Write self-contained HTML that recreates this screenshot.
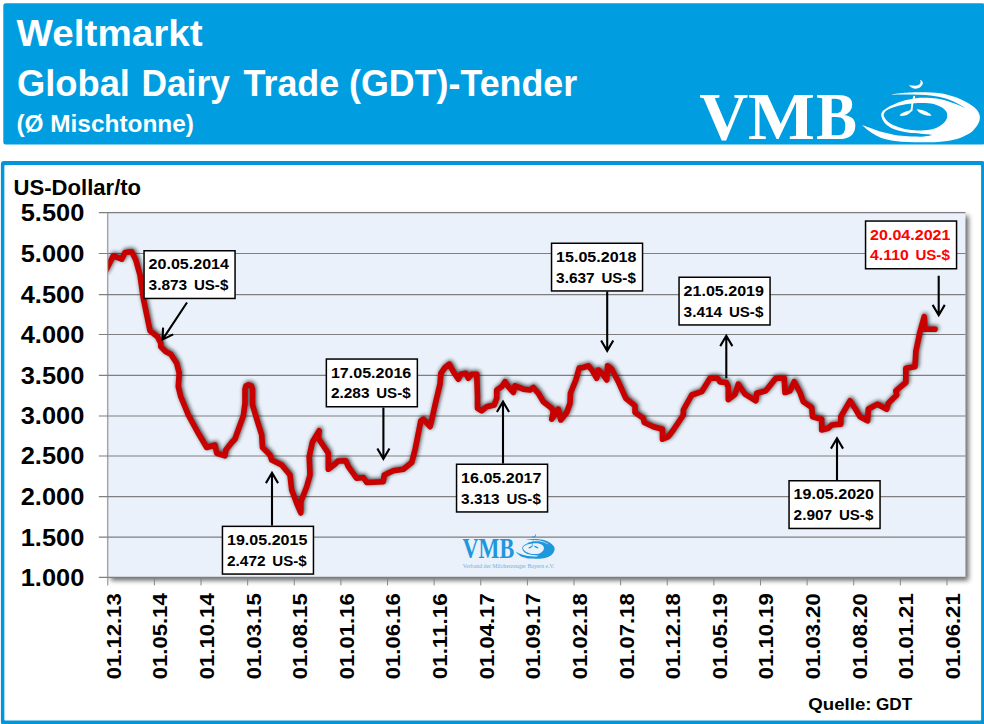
<!DOCTYPE html>
<html lang="de"><head><meta charset="utf-8"><title>Weltmarkt – Global Dairy Trade (GDT)-Tender</title>
<style>
html,body{margin:0;padding:0;background:#fff;}
body{width:984px;height:724px;overflow:hidden;position:relative;font-family:"Liberation Sans",sans-serif;}
#hdr{position:absolute;left:4px;top:4px;width:980px;height:140px;background:#009ee0;}
#frame{position:absolute;left:3px;top:163px;width:980px;height:560px;background:#fff;}
svg{position:absolute;left:0;top:0;}
text{font-family:"Liberation Sans",sans-serif;font-weight:bold;}
.serif{font-family:"Liberation Serif",serif;}
</style></head><body>
<div id="hdr"></div><div id="frame"></div>
<svg width="984" height="724" viewBox="0 0 984 724">
<defs>
<filter id="ps" x="-5%" y="-5%" width="115%" height="115%"><feGaussianBlur in="SourceAlpha" stdDeviation="2.7"/><feOffset dx="3.2" dy="3.2"/><feComponentTransfer><feFuncA type="linear" slope="0.6"/></feComponentTransfer></filter>
<filter id="ls" x="-5%" y="-10%" width="110%" height="120%"><feGaussianBlur in="SourceAlpha" stdDeviation="2.3"/><feOffset dx="0.7" dy="-1.3"/><feComponentTransfer><feFuncA type="linear" slope="0.75"/></feComponentTransfer></filter>
<clipPath id="pc"><rect x="108.3" y="212.7" width="857.7" height="364.7"/></clipPath>
</defs>
<rect x="3.3" y="3.3" width="981.4" height="141.3" rx="2.5" fill="#009ee0"/>
<path fill="#fff" d="M4,162 H981 A2,2 0 0 1 983,164 V721 A2,2 0 0 1 981,723 H4 A2,2 0 0 1 2,721 V164 A2,2 0 0 1 4,162 Z"/>
<path fill="#0096dc" fill-rule="evenodd" d="M4.1,161 H981.8 A3.2,3.2 0 0 1 985,164.2 V721.8 A3.2,3.2 0 0 1 981.8,725 H4.1 A3.2,3.2 0 0 1 0.9,721.8 V164.2 A3.2,3.2 0 0 1 4.1,161 Z M5.55,164.9 H979.9 A1.2,1.2 0 0 1 981.1,166.1 V719.4 A1.2,1.2 0 0 1 979.9,720.6 H5.55 A1.2,1.2 0 0 1 4.35,719.4 V166.1 A1.2,1.2 0 0 1 5.55,164.9 Z"/>
<g fill="#fff">
<text x="16.6" y="46.3" font-size="36.6" textLength="186" lengthAdjust="spacingAndGlyphs">Weltmarkt</text>
<text y="96.3" font-size="36.6"><tspan x="17.0" textLength="112.9" lengthAdjust="spacingAndGlyphs">Global</tspan> <tspan x="141.4" textLength="88.5" lengthAdjust="spacingAndGlyphs">Dairy</tspan> <tspan x="243.5" textLength="95.7" lengthAdjust="spacingAndGlyphs">Trade</tspan> <tspan x="349.1" textLength="228.1" lengthAdjust="spacingAndGlyphs">(GDT)-Tender</tspan></text>
<text x="16.4" y="132.3" font-size="24.1" textLength="177.5" lengthAdjust="spacingAndGlyphs">(Ø Mischtonne)</text>
<text class="serif" y="138.6" font-size="67.8"><tspan x="699.2" textLength="49" lengthAdjust="spacingAndGlyphs">V</tspan><tspan x="747.9" textLength="67" lengthAdjust="spacingAndGlyphs">M</tspan><tspan x="815.9" textLength="41" lengthAdjust="spacingAndGlyphs">B</tspan></text>
</g>
<g id="logo">
<path fill="#fff" d="M890.3,94.9 C891.92,94.63 896.9,93.68 900,93.3 C903.1,92.92 905.57,92.77 908.9,92.6 C912.23,92.43 916.33,92.32 920,92.3 C923.67,92.28 927.57,92.33 930.9,92.5 C934.23,92.67 937.25,92.93 940,93.3 C942.75,93.67 944.73,94.03 947.4,94.7 C950.07,95.37 953.27,96.3 956,97.3 C958.73,98.3 961.47,99.53 963.8,100.7 C966.13,101.87 968.17,103.12 970,104.3 C971.83,105.48 973.42,106.52 974.8,107.8 C976.18,109.08 977.47,110.58 978.3,112 C979.13,113.42 979.62,114.8 979.8,116.3 C979.98,117.8 979.83,119.45 979.4,121 C978.97,122.55 978.1,124.17 977.2,125.6 C976.3,127.03 975.12,128.42 974,129.6 C972.88,130.78 972.83,131.32 970.5,132.7 C968.17,134.08 963.92,136.53 960,137.9 C956.08,139.27 951.33,140.18 947,140.9 C942.67,141.62 938.33,141.97 934,142.2 C929.67,142.43 925.33,142.35 921,142.3 C916.67,142.25 912.33,142.13 908,141.9 C903.67,141.67 899.33,141.52 895,140.9 C890.67,140.28 885.42,139.25 882,138.2 C878.58,137.15 876.67,135.78 874.5,134.6 C872.33,133.42 870.62,132.28 869,131.1 C867.38,129.92 865.98,128.53 864.8,127.5 C863.62,126.47 862.38,125.33 861.9,124.9 C862.42,125.08 863.82,125.57 865,126 C866.18,126.43 867.33,126.87 869,127.5 C870.67,128.13 872.83,129.05 875,129.8 C877.17,130.55 879.75,131.37 882,132 C884.25,132.63 886.33,133.12 888.5,133.6 C890.67,134.08 892.83,134.55 895,134.9 C897.17,135.25 899.33,135.47 901.5,135.7 C903.67,135.93 905.83,136.15 908,136.3 C910.17,136.45 912.33,136.53 914.5,136.6 C916.67,136.67 918.92,136.78 921,136.7 C923.08,136.62 925.15,136.4 927,136.1 C928.85,135.8 931.25,135.1 932.1,134.9 C931.17,134.8 928.35,134.5 926.5,134.3 C924.65,134.1 923,133.9 921,133.7 C919,133.5 916.67,133.32 914.5,133.1 C912.33,132.88 910.17,132.72 908,132.4 C905.83,132.08 903.67,131.7 901.5,131.2 C899.33,130.7 896.92,130.07 895,129.4 C893.08,128.73 891.52,128.07 890,127.2 C888.48,126.33 887.07,125.32 885.9,124.2 C884.73,123.08 883.75,121.8 883,120.5 C882.25,119.2 881.67,117.55 881.4,116.4 C881.13,115.25 881.2,114.47 881.4,113.6 C881.6,112.73 882.03,111.87 882.6,111.2 C883.17,110.53 883.9,110.25 884.8,109.6 C885.7,108.95 886.72,108.05 888,107.3 C889.28,106.55 890.92,105.87 892.5,105.1 C894.08,104.33 895.68,103.43 897.5,102.7 C899.32,101.97 901.48,101.25 903.4,100.7 C905.32,100.15 907.17,99.77 909,99.4 C910.83,99.03 912.58,98.77 914.4,98.5 C916.22,98.23 918.13,97.93 919.9,97.8 C921.67,97.67 923.17,97.67 925,97.7 C926.83,97.73 928.98,97.85 930.9,98 C932.82,98.15 934.67,98.33 936.5,98.6 C938.33,98.87 940.07,99.2 941.9,99.6 C943.73,100 945.68,100.45 947.5,101 C949.32,101.55 950.88,102.2 952.8,102.9 C954.72,103.6 956.98,104.38 959,105.2 C961.02,106.02 963.92,107.37 964.9,107.8 C963.98,107.25 961.3,105.55 959.4,104.5 C957.5,103.45 955.5,102.4 953.5,101.5 C951.5,100.6 949.65,99.85 947.4,99.1 C945.15,98.35 942.75,97.6 940,97 C937.25,96.4 934.23,95.88 930.9,95.5 C927.57,95.12 923.67,94.88 920,94.7 C916.33,94.52 912.23,94.42 908.9,94.4 C905.57,94.38 903.1,94.52 900,94.6 C896.9,94.68 891.92,94.85 890.3,94.9 Z"/>
<path fill="#009ee0" d="M883.7,115.6 C883.53,114.47 884.02,113.32 884.6,112.4 C885.18,111.48 886.25,110.75 887.2,110.1 C888.15,109.45 888.83,109.12 890.3,108.5 C891.77,107.88 893.82,107.03 896,106.4 C898.18,105.77 900.7,105.18 903.4,104.7 C906.1,104.22 909.6,103.77 912.2,103.5 C914.8,103.23 916.8,103.18 919,103.1 C921.2,103.02 923.4,102.92 925.4,103 C927.4,103.08 929.17,103.28 931,103.6 C932.83,103.92 934.82,104.38 936.4,104.9 C937.98,105.42 939.23,106.03 940.5,106.7 C941.77,107.37 943.07,108.13 944,108.9 C944.93,109.67 945.58,110.45 946.1,111.3 C946.62,112.15 946.93,113.02 947.1,114 C947.27,114.98 947.32,116.1 947.1,117.2 C946.88,118.3 946.45,119.53 945.8,120.6 C945.15,121.67 944.33,122.6 943.2,123.6 C942.07,124.6 940.53,125.73 939,126.6 C937.47,127.47 935.92,128.22 934,128.8 C932.08,129.38 929.67,129.82 927.5,130.1 C925.33,130.38 923.17,130.47 921,130.5 C918.83,130.53 916.67,130.48 914.5,130.3 C912.33,130.12 910.08,129.75 908,129.4 C905.92,129.05 903.73,128.63 902,128.2 C900.27,127.77 899.18,127.38 897.6,126.8 C896.02,126.22 894.02,125.45 892.5,124.7 C890.98,123.95 889.65,123.22 888.5,122.3 C887.35,121.38 886.4,120.32 885.6,119.2 C884.8,118.08 883.87,116.73 883.7,115.6 Z"/>
<path fill="#fff" d="M908.8,85.2 C911,87.6 913.4,88.7 915.8,88.7 C918.8,88.7 921.4,87 922.6,84.3 C923.4,82.3 922.4,80.5 919.6,79.4 C920.8,80.9 921,82.3 920.2,83.6 C919.2,85.1 917.6,85.7 915.6,85.7 C913.4,85.7 911.2,85.5 908.8,85.2 Z"/>
<path fill="none" stroke="#fff" stroke-width="1.9" stroke-linecap="round" d="M914.2,96.6 C913.6,99.5 912.6,102 912.2,104.5 C911.9,106.6 911.8,108.6 911.5,110.6"/>
<path fill="#fff" d="M912.2,108.8 C911.6,112.2 909,114.6 905.2,115.5 C903,116 900.8,116.1 899.6,115.6 C900.2,113.9 902.2,112.6 904.6,111.9 C907.5,111.1 910.2,110.5 912.2,108.8 Z"/>
<path fill="#fff" d="M916.6,109.3 C920,109.3 923.6,110.2 926.6,111.8 C928.9,113 930.8,114.3 931.4,115.5 C929.3,116 926.5,115.7 923.9,114.8 C920.4,113.6 917.9,111.8 916.6,109.3 Z"/>
</g>
<text x="13.6" y="195.4" font-size="21.5" fill="#000" textLength="127.5" lengthAdjust="spacingAndGlyphs">US-Dollar/to</text>
<rect x="107.8" y="212.7" width="857.7" height="364.7" fill="#000" filter="url(#ps)"/>
<rect x="107.8" y="212.7" width="857.7" height="364.7" fill="#eaf1fa"/>
<path d="M98.8,577.4 H965.5 M98.8,537.2 H965.5 M98.8,496.7 H965.5 M98.8,456 H965.5 M98.8,416 H965.5 M98.8,375.3 H965.5 M98.8,334.5 H965.5 M98.8,294.6 H965.5 M98.8,253.5 H965.5 M98.8,212.7 H965.5" stroke="#7f7f7f" stroke-width="1.2" fill="none"/>
<path d="M107.8,212.7 V585.4 M154.42,577.4 V585.4 M201.04,577.4 V585.4 M247.66,577.4 V585.4 M294.28,577.4 V585.4 M340.9,577.4 V585.4 M387.52,577.4 V585.4 M434.14,577.4 V585.4 M480.76,577.4 V585.4 M527.38,577.4 V585.4 M574,577.4 V585.4 M620.62,577.4 V585.4 M667.24,577.4 V585.4 M713.86,577.4 V585.4 M760.48,577.4 V585.4 M807.1,577.4 V585.4 M853.72,577.4 V585.4 M900.34,577.4 V585.4 M946.96,577.4 V585.4" stroke="#868686" stroke-width="1" fill="none"/>
<g fill="#000" font-size="23.2" text-anchor="end">
<text x="84.3" y="221" textLength="63.6" lengthAdjust="spacingAndGlyphs">5.500</text>
<text x="84.3" y="261.8" textLength="63.6" lengthAdjust="spacingAndGlyphs">5.000</text>
<text x="84.3" y="302.9" textLength="63.6" lengthAdjust="spacingAndGlyphs">4.500</text>
<text x="84.3" y="342.8" textLength="63.6" lengthAdjust="spacingAndGlyphs">4.000</text>
<text x="84.3" y="383.6" textLength="63.6" lengthAdjust="spacingAndGlyphs">3.500</text>
<text x="84.3" y="424.3" textLength="63.6" lengthAdjust="spacingAndGlyphs">3.000</text>
<text x="84.3" y="464.3" textLength="63.6" lengthAdjust="spacingAndGlyphs">2.500</text>
<text x="84.3" y="505" textLength="63.6" lengthAdjust="spacingAndGlyphs">2.000</text>
<text x="84.3" y="545.5" textLength="63.6" lengthAdjust="spacingAndGlyphs">1.500</text>
<text x="84.3" y="585.7" textLength="63.6" lengthAdjust="spacingAndGlyphs">1.000</text>
</g>
<g fill="#000" font-size="21">
<text transform="translate(120.7,679.3) rotate(-90)" textLength="86" lengthAdjust="spacingAndGlyphs">01.12.13</text>
<text transform="translate(167.32,679.3) rotate(-90)" textLength="86" lengthAdjust="spacingAndGlyphs">01.05.14</text>
<text transform="translate(213.94,679.3) rotate(-90)" textLength="86" lengthAdjust="spacingAndGlyphs">01.10.14</text>
<text transform="translate(260.56,679.3) rotate(-90)" textLength="86" lengthAdjust="spacingAndGlyphs">01.03.15</text>
<text transform="translate(307.18,679.3) rotate(-90)" textLength="86" lengthAdjust="spacingAndGlyphs">01.08.15</text>
<text transform="translate(353.8,679.3) rotate(-90)" textLength="86" lengthAdjust="spacingAndGlyphs">01.01.16</text>
<text transform="translate(400.42,679.3) rotate(-90)" textLength="86" lengthAdjust="spacingAndGlyphs">01.06.16</text>
<text transform="translate(447.04,679.3) rotate(-90)" textLength="86" lengthAdjust="spacingAndGlyphs">01.11.16</text>
<text transform="translate(493.66,679.3) rotate(-90)" textLength="86" lengthAdjust="spacingAndGlyphs">01.04.17</text>
<text transform="translate(540.28,679.3) rotate(-90)" textLength="86" lengthAdjust="spacingAndGlyphs">01.09.17</text>
<text transform="translate(586.9,679.3) rotate(-90)" textLength="86" lengthAdjust="spacingAndGlyphs">01.02.18</text>
<text transform="translate(633.52,679.3) rotate(-90)" textLength="86" lengthAdjust="spacingAndGlyphs">01.07.18</text>
<text transform="translate(680.14,679.3) rotate(-90)" textLength="86" lengthAdjust="spacingAndGlyphs">01.12.18</text>
<text transform="translate(726.76,679.3) rotate(-90)" textLength="86" lengthAdjust="spacingAndGlyphs">01.05.19</text>
<text transform="translate(773.38,679.3) rotate(-90)" textLength="86" lengthAdjust="spacingAndGlyphs">01.10.19</text>
<text transform="translate(820,679.3) rotate(-90)" textLength="86" lengthAdjust="spacingAndGlyphs">01.03.20</text>
<text transform="translate(866.62,679.3) rotate(-90)" textLength="86" lengthAdjust="spacingAndGlyphs">01.08.20</text>
<text transform="translate(913.24,679.3) rotate(-90)" textLength="86" lengthAdjust="spacingAndGlyphs">01.01.21</text>
<text transform="translate(959.86,679.3) rotate(-90)" textLength="86" lengthAdjust="spacingAndGlyphs">01.06.21</text>
</g>
<text y="709.6" font-size="16.5" fill="#000"><tspan x="808.3" textLength="63.3" lengthAdjust="spacingAndGlyphs">Quelle:</tspan> <tspan x="876" textLength="36.2" lengthAdjust="spacingAndGlyphs">GDT</tspan></text>
<g id="wm" fill="#1f97dd">
<text class="serif" x="462.6" y="557.6" font-size="28.6" textLength="51.6" lengthAdjust="spacingAndGlyphs">VMB</text>
<text class="serif" x="462.8" y="568.2" font-size="5.8" style="font-weight:normal" fill="#74b0dc" textLength="91.7" lengthAdjust="spacingAndGlyphs">Verband der Milcherzeuger Bayern e.V.</text>
<g transform="translate(515.9,534.1) scale(0.328,0.393) translate(-861.9,-79.7)">
<path fill="#1f97dd" d="M890.3,94.9 C891.92,94.63 896.9,93.68 900,93.3 C903.1,92.92 905.57,92.77 908.9,92.6 C912.23,92.43 916.33,92.32 920,92.3 C923.67,92.28 927.57,92.33 930.9,92.5 C934.23,92.67 937.25,92.93 940,93.3 C942.75,93.67 944.73,94.03 947.4,94.7 C950.07,95.37 953.27,96.3 956,97.3 C958.73,98.3 961.47,99.53 963.8,100.7 C966.13,101.87 968.17,103.12 970,104.3 C971.83,105.48 973.42,106.52 974.8,107.8 C976.18,109.08 977.47,110.58 978.3,112 C979.13,113.42 979.62,114.8 979.8,116.3 C979.98,117.8 979.83,119.45 979.4,121 C978.97,122.55 978.1,124.17 977.2,125.6 C976.3,127.03 975.12,128.42 974,129.6 C972.88,130.78 972.83,131.32 970.5,132.7 C968.17,134.08 963.92,136.53 960,137.9 C956.08,139.27 951.33,140.18 947,140.9 C942.67,141.62 938.33,141.97 934,142.2 C929.67,142.43 925.33,142.35 921,142.3 C916.67,142.25 912.33,142.13 908,141.9 C903.67,141.67 899.33,141.52 895,140.9 C890.67,140.28 885.42,139.25 882,138.2 C878.58,137.15 876.67,135.78 874.5,134.6 C872.33,133.42 870.62,132.28 869,131.1 C867.38,129.92 865.98,128.53 864.8,127.5 C863.62,126.47 862.38,125.33 861.9,124.9 C862.42,125.08 863.82,125.57 865,126 C866.18,126.43 867.33,126.87 869,127.5 C870.67,128.13 872.83,129.05 875,129.8 C877.17,130.55 879.75,131.37 882,132 C884.25,132.63 886.33,133.12 888.5,133.6 C890.67,134.08 892.83,134.55 895,134.9 C897.17,135.25 899.33,135.47 901.5,135.7 C903.67,135.93 905.83,136.15 908,136.3 C910.17,136.45 912.33,136.53 914.5,136.6 C916.67,136.67 918.92,136.78 921,136.7 C923.08,136.62 925.15,136.4 927,136.1 C928.85,135.8 931.25,135.1 932.1,134.9 C931.17,134.8 928.35,134.5 926.5,134.3 C924.65,134.1 923,133.9 921,133.7 C919,133.5 916.67,133.32 914.5,133.1 C912.33,132.88 910.17,132.72 908,132.4 C905.83,132.08 903.67,131.7 901.5,131.2 C899.33,130.7 896.92,130.07 895,129.4 C893.08,128.73 891.52,128.07 890,127.2 C888.48,126.33 887.07,125.32 885.9,124.2 C884.73,123.08 883.75,121.8 883,120.5 C882.25,119.2 881.67,117.55 881.4,116.4 C881.13,115.25 881.2,114.47 881.4,113.6 C881.6,112.73 882.03,111.87 882.6,111.2 C883.17,110.53 883.9,110.25 884.8,109.6 C885.7,108.95 886.72,108.05 888,107.3 C889.28,106.55 890.92,105.87 892.5,105.1 C894.08,104.33 895.68,103.43 897.5,102.7 C899.32,101.97 901.48,101.25 903.4,100.7 C905.32,100.15 907.17,99.77 909,99.4 C910.83,99.03 912.58,98.77 914.4,98.5 C916.22,98.23 918.13,97.93 919.9,97.8 C921.67,97.67 923.17,97.67 925,97.7 C926.83,97.73 928.98,97.85 930.9,98 C932.82,98.15 934.67,98.33 936.5,98.6 C938.33,98.87 940.07,99.2 941.9,99.6 C943.73,100 945.68,100.45 947.5,101 C949.32,101.55 950.88,102.2 952.8,102.9 C954.72,103.6 956.98,104.38 959,105.2 C961.02,106.02 963.92,107.37 964.9,107.8 C963.98,107.25 961.3,105.55 959.4,104.5 C957.5,103.45 955.5,102.4 953.5,101.5 C951.5,100.6 949.65,99.85 947.4,99.1 C945.15,98.35 942.75,97.6 940,97 C937.25,96.4 934.23,95.88 930.9,95.5 C927.57,95.12 923.67,94.88 920,94.7 C916.33,94.52 912.23,94.42 908.9,94.4 C905.57,94.38 903.1,94.52 900,94.6 C896.9,94.68 891.92,94.85 890.3,94.9 Z"/>
<path fill="#eaf1fa" d="M883.7,115.6 C883.53,114.47 884.02,113.32 884.6,112.4 C885.18,111.48 886.25,110.75 887.2,110.1 C888.15,109.45 888.83,109.12 890.3,108.5 C891.77,107.88 893.82,107.03 896,106.4 C898.18,105.77 900.7,105.18 903.4,104.7 C906.1,104.22 909.6,103.77 912.2,103.5 C914.8,103.23 916.8,103.18 919,103.1 C921.2,103.02 923.4,102.92 925.4,103 C927.4,103.08 929.17,103.28 931,103.6 C932.83,103.92 934.82,104.38 936.4,104.9 C937.98,105.42 939.23,106.03 940.5,106.7 C941.77,107.37 943.07,108.13 944,108.9 C944.93,109.67 945.58,110.45 946.1,111.3 C946.62,112.15 946.93,113.02 947.1,114 C947.27,114.98 947.32,116.1 947.1,117.2 C946.88,118.3 946.45,119.53 945.8,120.6 C945.15,121.67 944.33,122.6 943.2,123.6 C942.07,124.6 940.53,125.73 939,126.6 C937.47,127.47 935.92,128.22 934,128.8 C932.08,129.38 929.67,129.82 927.5,130.1 C925.33,130.38 923.17,130.47 921,130.5 C918.83,130.53 916.67,130.48 914.5,130.3 C912.33,130.12 910.08,129.75 908,129.4 C905.92,129.05 903.73,128.63 902,128.2 C900.27,127.77 899.18,127.38 897.6,126.8 C896.02,126.22 894.02,125.45 892.5,124.7 C890.98,123.95 889.65,123.22 888.5,122.3 C887.35,121.38 886.4,120.32 885.6,119.2 C884.8,118.08 883.87,116.73 883.7,115.6 Z"/>
<path fill="#1f97dd" d="M908.8,85.2 C911,87.6 913.4,88.7 915.8,88.7 C918.8,88.7 921.4,87 922.6,84.3 C923.4,82.3 922.4,80.5 919.6,79.4 C920.8,80.9 921,82.3 920.2,83.6 C919.2,85.1 917.6,85.7 915.6,85.7 C913.4,85.7 911.2,85.5 908.8,85.2 Z"/>
<path fill="none" stroke="#1f97dd" stroke-width="1.9" stroke-linecap="round" d="M914.2,96.6 C913.6,99.5 912.6,102 912.2,104.5 C911.9,106.6 911.8,108.6 911.5,110.6"/>
<path fill="#1f97dd" d="M912.2,108.8 C911.6,112.2 909,114.6 905.2,115.5 C903,116 900.8,116.1 899.6,115.6 C900.2,113.9 902.2,112.6 904.6,111.9 C907.5,111.1 910.2,110.5 912.2,108.8 Z"/>
<path fill="#1f97dd" d="M916.6,109.3 C920,109.3 923.6,110.2 926.6,111.8 C928.9,113 930.8,114.3 931.4,115.5 C929.3,116 926.5,115.7 923.9,114.8 C920.4,113.6 917.9,111.8 916.6,109.3 Z"/>
</g></g>
<path d="M105.5,271 L113.3,255.8 L121.7,259.2 L125,252.5 L131.7,251.7 L135.8,260 L140,275 L143.3,298.3 L150,330.8 L157.5,336.7 L160.8,343.3 L160.8,346.7 L165.8,351.7 L170.8,354.2 L176.7,363.3 L179.2,373.3 L178.3,386.7 L180.8,396.7 L188.3,415 L198.3,433.3 L206.7,447.5 L215,445 L216.7,453.3 L225,455.8 L225.8,450 L231.7,442.5 L235,439 L236.7,434 L243.3,416 L245,403.3 L245,389 L246,385.8 L248.5,384.8 L251.2,385.8 L252.5,389 L252.5,405 L256.7,419 L261.7,435 L262.5,447.5 L270,455 L271.7,460 L281.7,465 L290,475 L291.7,490 L296.7,503.3 L300.8,513 L300.8,501.7 L306.7,486.7 L310,475 L309.2,456.7 L312.5,441.7 L319.2,430.8 L318.3,438.3 L328.3,453.3 L328.3,469.2 L335,464 L338,461 L345.8,460.8 L348.3,466.7 L356.7,478.3 L363.3,477.5 L366.7,482.5 L383.3,481.7 L384.2,475 L393.3,470.8 L403.3,469.2 L411.7,462.5 L415,450 L420.8,420.8 L423.3,419.2 L430,426.7 L431.7,420 L435,405 L440,384 L440.8,373.3 L445,367.5 L449.2,364.2 L453.3,371.7 L458.3,379.2 L460.8,374.2 L465.8,373.3 L468.3,378.3 L471.7,374.2 L476.7,374.2 L477.5,396.7 L477.5,408.3 L481.7,410.8 L486.7,406.7 L494.2,405 L496.7,398.3 L496.7,390 L501.7,386.7 L505,381.7 L508.3,386.7 L513.3,392.5 L515,385.8 L523.3,389.2 L530,390 L533.3,387.5 L538.3,393.3 L543.3,401.7 L551.7,408.3 L553.3,411.7 L551.7,419.2 L555.8,413.3 L558.3,409.2 L560.8,420 L566.7,412.5 L570,403.3 L570.4,393.3 L575.8,380 L579.2,368 L583.3,367.5 L588.3,365.8 L592.5,370.8 L596.7,378.3 L598.3,370 L603.3,375 L606.7,380 L607.5,365.8 L611.7,369.2 L618.3,381.7 L625.8,398.3 L635,405.8 L635,412.5 L643.3,418.3 L644.2,422.5 L653.3,426.7 L662.5,429.2 L662.5,439.2 L668.3,436.7 L673.3,430 L680,420 L683.3,415 L683.3,410 L691.7,395 L701.7,391.7 L710,378.3 L717.5,378.3 L720,382 L726.2,382.5 L728.3,387 L728.3,399.6 L735,394.2 L738.3,384.2 L745,394.2 L755.8,400.8 L756.7,393.3 L765.8,390.8 L775.8,378.3 L784.2,378.3 L785,392.5 L790,390.8 L794.2,381.7 L800,392.5 L803.3,401.7 L811.7,407.5 L812.5,416.7 L821.7,419.2 L821.7,430 L828.3,428.3 L831.7,425 L840.8,424.2 L840.8,416.7 L850,400.8 L855.4,409 L860,416.7 L867.5,420.8 L868.3,409 L877.5,404.2 L886.7,409.2 L888.3,403.3 L896.7,395 L895.8,390.8 L905.8,382.5 L905.8,368.3 L915,366.7 L915.8,351.7 L920,331.7 L924.2,316.7 L925,329.2 L935,329.2" fill="none" stroke="#000" stroke-width="5.6" stroke-linejoin="round" stroke-linecap="round" filter="url(#ls)" clip-path="url(#pc)"/>
<path d="M105.5,271 L113.3,255.8 L121.7,259.2 L125,252.5 L131.7,251.7 L135.8,260 L140,275 L143.3,298.3 L150,330.8 L157.5,336.7 L160.8,343.3 L160.8,346.7 L165.8,351.7 L170.8,354.2 L176.7,363.3 L179.2,373.3 L178.3,386.7 L180.8,396.7 L188.3,415 L198.3,433.3 L206.7,447.5 L215,445 L216.7,453.3 L225,455.8 L225.8,450 L231.7,442.5 L235,439 L236.7,434 L243.3,416 L245,403.3 L245,389 L246,385.8 L248.5,384.8 L251.2,385.8 L252.5,389 L252.5,405 L256.7,419 L261.7,435 L262.5,447.5 L270,455 L271.7,460 L281.7,465 L290,475 L291.7,490 L296.7,503.3 L300.8,513 L300.8,501.7 L306.7,486.7 L310,475 L309.2,456.7 L312.5,441.7 L319.2,430.8 L318.3,438.3 L328.3,453.3 L328.3,469.2 L335,464 L338,461 L345.8,460.8 L348.3,466.7 L356.7,478.3 L363.3,477.5 L366.7,482.5 L383.3,481.7 L384.2,475 L393.3,470.8 L403.3,469.2 L411.7,462.5 L415,450 L420.8,420.8 L423.3,419.2 L430,426.7 L431.7,420 L435,405 L440,384 L440.8,373.3 L445,367.5 L449.2,364.2 L453.3,371.7 L458.3,379.2 L460.8,374.2 L465.8,373.3 L468.3,378.3 L471.7,374.2 L476.7,374.2 L477.5,396.7 L477.5,408.3 L481.7,410.8 L486.7,406.7 L494.2,405 L496.7,398.3 L496.7,390 L501.7,386.7 L505,381.7 L508.3,386.7 L513.3,392.5 L515,385.8 L523.3,389.2 L530,390 L533.3,387.5 L538.3,393.3 L543.3,401.7 L551.7,408.3 L553.3,411.7 L551.7,419.2 L555.8,413.3 L558.3,409.2 L560.8,420 L566.7,412.5 L570,403.3 L570.4,393.3 L575.8,380 L579.2,368 L583.3,367.5 L588.3,365.8 L592.5,370.8 L596.7,378.3 L598.3,370 L603.3,375 L606.7,380 L607.5,365.8 L611.7,369.2 L618.3,381.7 L625.8,398.3 L635,405.8 L635,412.5 L643.3,418.3 L644.2,422.5 L653.3,426.7 L662.5,429.2 L662.5,439.2 L668.3,436.7 L673.3,430 L680,420 L683.3,415 L683.3,410 L691.7,395 L701.7,391.7 L710,378.3 L717.5,378.3 L720,382 L726.2,382.5 L728.3,387 L728.3,399.6 L735,394.2 L738.3,384.2 L745,394.2 L755.8,400.8 L756.7,393.3 L765.8,390.8 L775.8,378.3 L784.2,378.3 L785,392.5 L790,390.8 L794.2,381.7 L800,392.5 L803.3,401.7 L811.7,407.5 L812.5,416.7 L821.7,419.2 L821.7,430 L828.3,428.3 L831.7,425 L840.8,424.2 L840.8,416.7 L850,400.8 L855.4,409 L860,416.7 L867.5,420.8 L868.3,409 L877.5,404.2 L886.7,409.2 L888.3,403.3 L896.7,395 L895.8,390.8 L905.8,382.5 L905.8,368.3 L915,366.7 L915.8,351.7 L920,331.7 L924.2,316.7 L925,329.2 L935,329.2" fill="none" stroke="#c80000" stroke-width="5.6" stroke-linejoin="round" stroke-linecap="round" clip-path="url(#pc)"/>
<path d="M187,302.5 L162.44,339.63 M163.09,327.65 L162.44,339.63 L173.21,334.34" fill="none" stroke="#000" stroke-width="2.1" stroke-linejoin="miter"/>
<rect x="144.05" y="250.75" width="91" height="47.7" fill="#fff" stroke="#000" stroke-width="1.5"/>
<text font-size="14" fill="#000"><tspan x="148.6" y="269.2" textLength="80.4" lengthAdjust="spacingAndGlyphs">20.05.2014</tspan><tspan x="148.6" y="290.1" textLength="38.6" lengthAdjust="spacingAndGlyphs">3.873</tspan><tspan x="193.9" y="290.1" textLength="34.4" lengthAdjust="spacingAndGlyphs">US-$</tspan></text>
<path d="M272,525.6 L272,472.8 M278.07,483.15 L272,472.8 L265.93,483.15" fill="none" stroke="#000" stroke-width="2.1" stroke-linejoin="miter"/>
<rect x="222.45" y="526.35" width="91" height="47.7" fill="#fff" stroke="#000" stroke-width="1.5"/>
<text font-size="14" fill="#000"><tspan x="227" y="544.8" textLength="80.4" lengthAdjust="spacingAndGlyphs">19.05.2015</tspan><tspan x="227" y="565.7" textLength="38.6" lengthAdjust="spacingAndGlyphs">2.472</tspan><tspan x="272.3" y="565.7" textLength="34.4" lengthAdjust="spacingAndGlyphs">US-$</tspan></text>
<path d="M383.4,407.4 L383.4,458.8 M377.33,448.45 L383.4,458.8 L389.47,448.45" fill="none" stroke="#000" stroke-width="2.1" stroke-linejoin="miter"/>
<rect x="326.35" y="359.05" width="91" height="47.7" fill="#fff" stroke="#000" stroke-width="1.5"/>
<text font-size="14" fill="#000"><tspan x="330.9" y="377.5" textLength="80.4" lengthAdjust="spacingAndGlyphs">17.05.2016</tspan><tspan x="330.9" y="398.4" textLength="38.6" lengthAdjust="spacingAndGlyphs">2.283</tspan><tspan x="376.2" y="398.4" textLength="34.4" lengthAdjust="spacingAndGlyphs">US-$</tspan></text>
<path d="M503,463.5 L503,401.6 M509.07,411.95 L503,401.6 L496.93,411.95" fill="none" stroke="#000" stroke-width="2.1" stroke-linejoin="miter"/>
<rect x="456.55" y="464.25" width="91" height="47.7" fill="#fff" stroke="#000" stroke-width="1.5"/>
<text font-size="14" fill="#000"><tspan x="461.1" y="482.7" textLength="80.4" lengthAdjust="spacingAndGlyphs">16.05.2017</tspan><tspan x="461.1" y="503.6" textLength="38.6" lengthAdjust="spacingAndGlyphs">3.313</tspan><tspan x="506.4" y="503.6" textLength="34.4" lengthAdjust="spacingAndGlyphs">US-$</tspan></text>
<path d="M607.2,291.6 L607.2,350.9 M601.13,340.55 L607.2,350.9 L613.27,340.55" fill="none" stroke="#000" stroke-width="2.1" stroke-linejoin="miter"/>
<rect x="551.55" y="243.25" width="91" height="47.7" fill="#fff" stroke="#000" stroke-width="1.5"/>
<text font-size="14" fill="#000"><tspan x="556.1" y="261.7" textLength="80.4" lengthAdjust="spacingAndGlyphs">15.05.2018</tspan><tspan x="556.1" y="282.6" textLength="38.6" lengthAdjust="spacingAndGlyphs">3.637</tspan><tspan x="601.4" y="282.6" textLength="34.4" lengthAdjust="spacingAndGlyphs">US-$</tspan></text>
<path d="M726.3,378.3 L726.3,335.8 M732.37,346.15 L726.3,335.8 L720.23,346.15" fill="none" stroke="#000" stroke-width="2.1" stroke-linejoin="miter"/>
<rect x="679.05" y="277.25" width="91" height="47.7" fill="#fff" stroke="#000" stroke-width="1.5"/>
<text font-size="14" fill="#000"><tspan x="683.6" y="295.7" textLength="80.4" lengthAdjust="spacingAndGlyphs">21.05.2019</tspan><tspan x="683.6" y="316.6" textLength="38.6" lengthAdjust="spacingAndGlyphs">3.414</tspan><tspan x="728.9" y="316.6" textLength="34.4" lengthAdjust="spacingAndGlyphs">US-$</tspan></text>
<path d="M837,480 L837,438.3 M843.07,448.65 L837,438.3 L830.93,448.65" fill="none" stroke="#000" stroke-width="2.1" stroke-linejoin="miter"/>
<rect x="789.05" y="480.75" width="91" height="47.7" fill="#fff" stroke="#000" stroke-width="1.5"/>
<text font-size="14" fill="#000"><tspan x="793.6" y="499.2" textLength="80.4" lengthAdjust="spacingAndGlyphs">19.05.2020</tspan><tspan x="793.6" y="520.1" textLength="38.6" lengthAdjust="spacingAndGlyphs">2.907</tspan><tspan x="838.9" y="520.1" textLength="34.4" lengthAdjust="spacingAndGlyphs">US-$</tspan></text>
<path d="M938.7,275.8 L938.7,315.2 M932.63,304.85 L938.7,315.2 L944.77,304.85" fill="none" stroke="#000" stroke-width="2.1" stroke-linejoin="miter"/>
<rect x="865.55" y="221.05" width="91" height="47.7" fill="#fff" stroke="#000" stroke-width="1.5"/>
<text font-size="14" fill="#ff0000"><tspan x="870.1" y="239.5" textLength="80.4" lengthAdjust="spacingAndGlyphs">20.04.2021</tspan><tspan x="870.1" y="260.4" textLength="38.6" lengthAdjust="spacingAndGlyphs">4.110</tspan><tspan x="915.4" y="260.4" textLength="34.4" lengthAdjust="spacingAndGlyphs">US-$</tspan></text>
</svg>
</body></html>
